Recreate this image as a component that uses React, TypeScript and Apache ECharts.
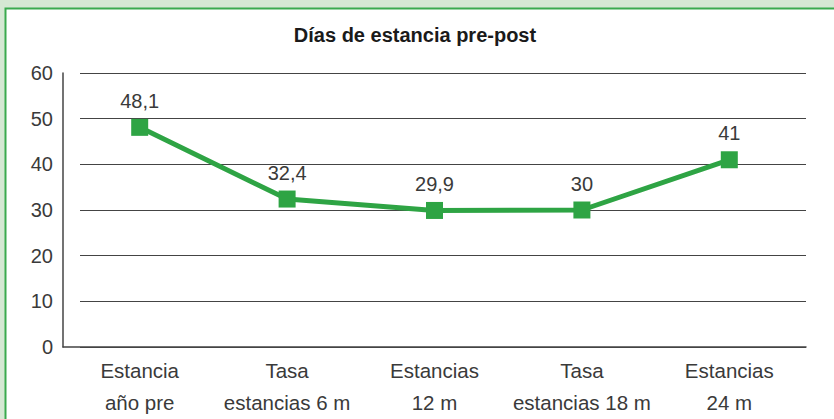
import React, { useEffect, useRef } from "react";
import * as echarts from "echarts";

const title = "Días de estancia pre-post";
const categories = [
  "Estancia\naño pre",
  "Tasa\nestancias 6 m",
  "Estancias\n12 m",
  "Tasa\nestancias 18 m",
  "Estancias\n24 m",
];
const values = [48.1, 32.4, 29.9, 30, 41];
const yMin = 0;
const yMax = 60;
const yStep = 10;

const GREEN = "#2ea444";
const FONT = "'Liberation Sans', Arial, Helvetica, sans-serif";

export default function App() {
  const ref = useRef<HTMLDivElement>(null);
  useEffect(() => {
    if (!ref.current) return;
    const chart = echarts.init(ref.current, null, { renderer: "svg" });
    const top = 73;
    const height = 274;
    chart.setOption({
      animation: false,
      backgroundColor: "#d5e8d3",
      graphic: [
        {
          type: "rect",
          shape: { x: 5.5, y: 8.5, width: 840, height: 420 },
          style: { fill: "#ffffff", stroke: "#3aaa4e", lineWidth: 2 },
          z: -10,
        },
      ],
      title: {
        text: title,
        left: 410,
        top: 20,
        textAlign: "center",
        textStyle: { fontFamily: FONT, fontSize: 20, fontWeight: "bold", color: "#1a1a1a" },
      },
      grid: [
        { left: 66, width: 737, top, height },
        { left: 80, width: 726, top, height },
        { left: 63, width: 743, top, height },
      ],
      xAxis: [
        {
          type: "category",
          gridIndex: 0,
          data: categories,
          axisLine: { show: false },
          axisTick: { show: false },
          axisLabel: {
            interval: 0,
            fontFamily: FONT,
            fontSize: 20.5,
            color: "#3a3a3a",
            lineHeight: 32,
            margin: 7,
          },
        },
        { type: "category", gridIndex: 1, data: categories, show: false },
        {
          type: "category",
          gridIndex: 2,
          data: categories,
          axisLine: { show: true, lineStyle: { color: "#444", width: 1.5 } },
          axisTick: { show: false },
          axisLabel: { show: false },
        },
      ],
      yAxis: [
        {
          type: "value",
          gridIndex: 0,
          min: yMin,
          max: yMax,
          interval: yStep,
          axisLine: { show: false },
          axisTick: { show: false },
          splitLine: { show: false },
          axisLabel: { fontFamily: FONT, fontSize: 20, color: "#3a3a3a", margin: 13 },
        },
        {
          type: "value",
          gridIndex: 1,
          min: yMin,
          max: yMax,
          interval: yStep,
          axisLine: { show: false },
          axisTick: { show: false },
          axisLabel: { show: false },
          splitLine: { show: true, lineStyle: { color: "#444", width: 1 } },
        },
        {
          type: "value",
          gridIndex: 2,
          min: yMin,
          max: yMax,
          interval: yStep,
          axisLine: { show: true, lineStyle: { color: "#444", width: 1.5 } },
          axisTick: { show: false },
          axisLabel: { show: false },
          splitLine: { show: false },
        },
      ],
      series: [
        {
          type: "line",
          xAxisIndex: 0,
          yAxisIndex: 0,
          data: values,
          symbol: "rect",
          symbolSize: 17,
          lineStyle: { color: GREEN, width: 5 },
          itemStyle: { color: GREEN },
          z: 5,
          label: {
            show: true,
            position: "top",
            distance: 8,
            fontFamily: FONT,
            fontSize: 20,
            color: "#3a3a3a",
            formatter: (p: any) => String(p.value).replace(".", ","),
          },
        },
      ],
    });
    return () => chart.dispose();
  }, []);
  return (
    <div
      ref={ref}
      style={{ position: "fixed", left: 0, top: 0, width: 834, height: 419 }}
    />
  );
}
